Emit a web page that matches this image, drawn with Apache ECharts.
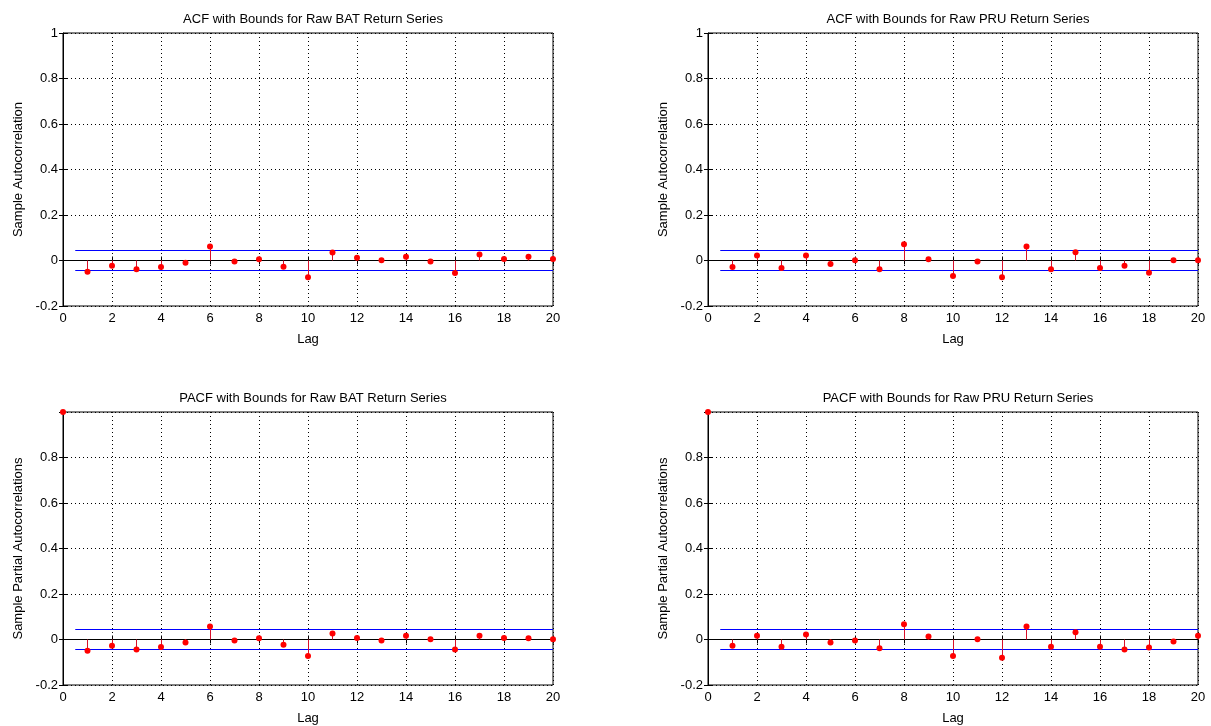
<!DOCTYPE html>
<html><head><meta charset="utf-8">
<script src="https://cdn.jsdelivr.net/npm/echarts@6/dist/echarts.min.js"></script>
<style>html,body{margin:0;padding:0;background:#fff}#c{width:1211px;height:726px}</style>
</head><body><div id="c"></div>
<script>
const lags = [1,2,3,4,5,6,7,8,9,10,11,12,13,14,15,16,17,18,19,20];
const acfBAT = [-0.049,-0.023,-0.039,-0.029,-0.010,0.061,-0.004,0.006,-0.028,-0.074,0.035,0.012,0.001,0.016,-0.004,-0.055,0.026,0.007,0.016,0.007];
const acfPRU = [-0.029,0.022,-0.033,0.022,-0.015,0.001,-0.039,0.071,0.006,-0.068,-0.004,-0.074,0.061,-0.039,0.036,-0.033,-0.023,-0.054,0.001,0.001];
const pacfBAT = [1,-0.049,-0.028,-0.044,-0.033,-0.013,0.057,-0.004,0.006,-0.023,-0.073,0.026,0.007,-0.004,0.016,0.001,-0.044,0.016,0.007,0.006,0.001];
const pacfPRU = [1,-0.028,0.017,-0.032,0.022,-0.013,-0.004,-0.039,0.067,0.013,-0.073,0.001,-0.080,0.057,-0.032,0.032,-0.032,-0.044,-0.035,-0.009,0.017];
const bound = 0.045;
// reference lines: [xStart, xEnd, y, colour-kind]
const refLines = [[0, 20, 0, 0], [0.5, 20, bound, 1], [0.5, 20, -bound, 1]];
const titles = ['ACF with Bounds for Raw BAT Return Series','ACF with Bounds for Raw PRU Return Series','PACF with Bounds for Raw BAT Return Series','PACF with Bounds for Raw PRU Return Series'];
const yNames = ['Sample Autocorrelation','Sample Autocorrelation','Sample Partial Autocorrelations','Sample Partial Autocorrelations'];
const xName = 'Lag';

const panels = [
  {lags: lags, vals: acfBAT, pacf:false},
  {lags: lags, vals: acfPRU, pacf:false},
  {lags: [0].concat(lags), vals: pacfBAT, pacf:true},
  {lags: [0].concat(lags), vals: pacfPRU, pacf:true}
];
const grids = [
  {left:63, top:33, width:490, height:273},
  {left:708, top:33, width:490, height:273},
  {left:63, top:412, width:490, height:273},
  {left:708, top:412, width:490, height:273}
];
const font = 'Liberation Sans, Arial, sans-serif';
const lineColours = ['#000000', '#0000ff'];
const snap = v => Math.round(v - 0.5) + 0.5;
const dotted = {show:true, lineStyle:{color:'#000', type:[1,3], width:1}};
const option = {backgroundColor:'#fff', animation:false, title:[], grid:[], xAxis:[], yAxis:[], series:[]};
grids.forEach((g,i)=>{
  option.grid.push(Object.assign({show:true, borderColor:'#000', borderWidth:1, containLabel:false}, g));
  option.title.push({text:titles[i], left:g.left+g.width/2, top:g.top-25, textAlign:'center',
    textStyle:{fontFamily:font, fontSize:13, fontWeight:'normal', color:'#000'}});
  option.xAxis.push({type:'value', gridIndex:i, min:0, max:20, interval:2, name:xName, nameLocation:'middle', nameGap:27,
    nameTextStyle:{fontFamily:font, fontSize:13, color:'#000'},
    axisLine:{lineStyle:{color:'#000'}}, axisTick:{inside:true, length:4, lineStyle:{color:'#000'}},
    axisLabel:{fontFamily:font, fontSize:13, color:'#000', margin:6}, splitLine:dotted});
  option.xAxis.push({type:'value', gridIndex:i, position:'top', min:0, max:20, interval:2,
    axisLine:{show:false}, axisTick:{inside:true, length:4, lineStyle:{color:'#000'}}, axisLabel:{show:false}, splitLine:{show:false}});
  option.yAxis.push({type:'value', gridIndex:i, min:-0.2, max:1, interval:0.2, name:yNames[i], nameLocation:'middle', nameGap:38,
    nameTextStyle:{fontFamily:font, fontSize:13, color:'#000'},
    axisLine:{lineStyle:{color:'#000'}}, axisTick:{inside:true, length:4, lineStyle:{color:'#000'}},
    axisLabel:{fontFamily:font, fontSize:13, color:'#000', margin:5, showMaxLabel: !panels[i].pacf}, splitLine:dotted});
  option.yAxis.push({type:'value', gridIndex:i, position:'right', min:-0.2, max:1, interval:0.2,
    axisLine:{show:false}, axisTick:{inside:true, length:4, lineStyle:{color:'#000'}}, axisLabel:{show:false}, splitLine:{show:false}});
  const xa = 2*i, ya = 2*i;
  option.series.push({type:'custom', xAxisIndex:xa, yAxisIndex:ya, z:3, silent:true, clip:false,
    data: refLines.map(r=>r.slice()),
    renderItem:function(params, api){
      const a = api.coord([api.value(0), api.value(2)]);
      const b = api.coord([api.value(1), api.value(2)]);
      const y = snap(a[1]);
      return {type:'line', shape:{x1:a[0], y1:y, x2:b[0], y2:y},
        style:{stroke: lineColours[api.value(3)], lineWidth:1}};
    }});
  const p = panels[i];
  const pts = p.lags.map((l,k)=>[l, p.vals[k]]);
  option.series.push({type:'custom', xAxisIndex:xa, yAxisIndex:ya, z:4, clip:false, data: pts,
    renderItem:function(params, api){
      const x = api.value(0), y = api.value(1);
      const p0 = api.coord([x,0]), p1 = api.coord([x,y]);
      const sx = snap(p0[0]);
      // the lag-0 stem lies on the left axis line, which covers it in the original
      const col = x === 0 ? '#000000' : '#d8102a';
      return {type:'line', shape:{x1:sx, y1:snap(p0[1]), x2:sx, y2:p1[1]}, style:{stroke:col, lineWidth:1}};
    }});
  option.series.push({type:'custom', xAxisIndex:xa, yAxisIndex:ya, z:8, clip:false, data: pts,
    renderItem:function(params, api){
      const p1 = api.coord([api.value(0), api.value(1)]);
      return {type:'circle', shape:{cx:p1[0], cy:p1[1], r:3}, style:{fill:'#ff0000'}};
    }});
});
echarts.init(document.getElementById('c'), null, {renderer:'canvas'}).setOption(option);
</script></body></html>
